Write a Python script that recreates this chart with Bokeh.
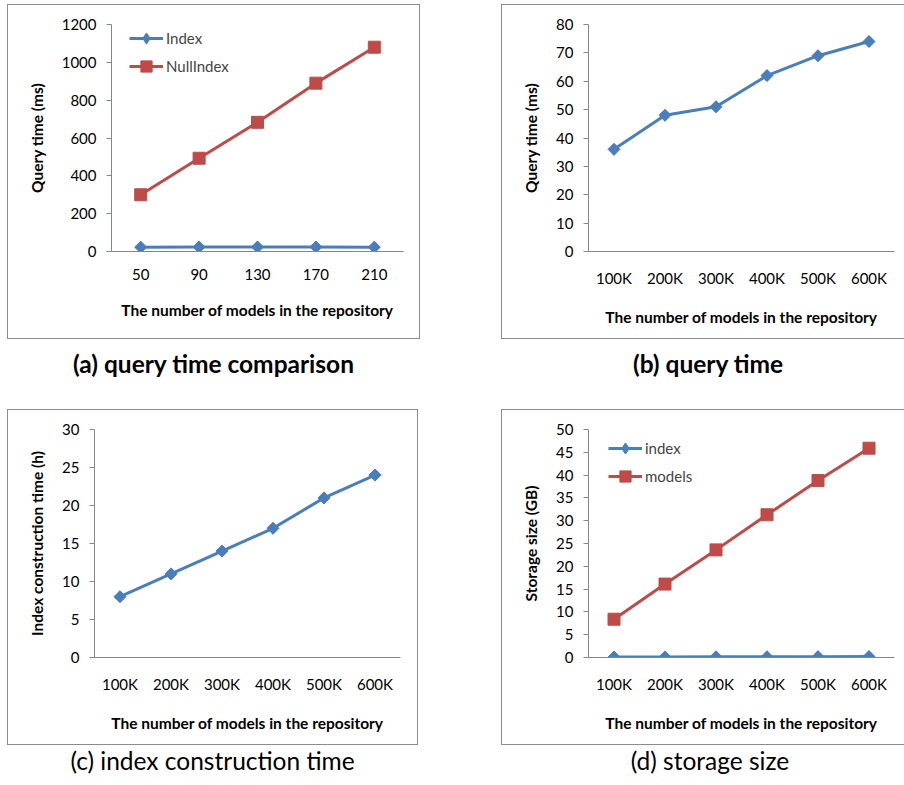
import math
from bokeh.plotting import figure
from bokeh.models import (FactorRange, Range1d, FixedTicker, Legend, LegendItem, Div, Spacer)
from bokeh.layouts import column, row
from bokeh.embed import file_html
from bokeh.resources import INLINE

# ---------------- data ----------------
cats_a = ["50", "90", "130", "170", "210"]
index_a = [23, 24, 24, 24, 23]
nullindex_a = [300, 493, 683, 890, 1080]
yticks_a = [0, 200, 400, 600, 800, 1000, 1200]

cats_b = ["100K", "200K", "300K", "400K", "500K", "600K"]
query_b = [36, 48, 51, 62, 69, 74]
yticks_b = [0, 10, 20, 30, 40, 50, 60, 70, 80]

cats_c = ["100K", "200K", "300K", "400K", "500K", "600K"]
build_c = [8, 11, 14, 17, 21, 24]
yticks_c = [0, 5, 10, 15, 20, 25, 30]

cats_d = ["100K", "200K", "300K", "400K", "500K", "600K"]
index_d = [0.1, 0.13, 0.15, 0.17, 0.19, 0.21]
models_d = [8.4, 16.1, 23.6, 31.3, 38.8, 45.9]
yticks_d = [0, 5, 10, 15, 20, 25, 30, 35, 40, 45, 50]

captions = ["(a) query time comparison", "(b) query time",
            "(c) index construction time", "(d) storage size"]
xtitle = "The number of models in the repository"

BLUE = "#4A7EBB"
RED = "#BE4B48"
AXIS = "#868686"
FONT = "Lato"
BORDER = "#8c8c8c"


def make_fig(cats, ymax, yticks, ytitle, width, height, left, right, top, bottom, right_border=True):
    st = {"border-top": f"1px solid {BORDER}", "border-bottom": f"1px solid {BORDER}",
          "border-left": f"1px solid {BORDER}", "box-sizing": "border-box"}
    if right_border:
        st["border-right"] = f"1px solid {BORDER}"
    p = figure(x_range=FactorRange(factors=cats), y_range=Range1d(0, ymax),
               width=width, height=height, output_backend="svg", toolbar_location=None,
               min_border_left=left, min_border_right=right, min_border_top=top,
               min_border_bottom=bottom, styles=st)
    p.outline_line_color = None
    p.xgrid.grid_line_color = None
    p.ygrid.grid_line_color = None
    p.background_fill_color = "white"
    p.border_fill_color = "white"
    p.yaxis.ticker = FixedTicker(ticks=yticks)
    for ax in (p.xaxis[0], p.yaxis[0]):
        ax.axis_line_color = AXIS
        ax.axis_line_width = 1
        ax.major_tick_line_color = AXIS
        ax.minor_tick_line_color = None
        ax.major_label_text_font = FONT
        ax.major_label_text_font_size = "15px"
        ax.major_label_text_color = "#000000"
        ax.axis_label_text_font = FONT
        ax.axis_label_text_font_size = "15.5px"
        ax.axis_label_text_font_style = "bold"
        ax.axis_label_text_color = "#000000"
    p.yaxis.major_tick_out = 5
    p.yaxis.major_tick_in = 0
    p.yaxis.major_label_standoff = 10
    p.yaxis.axis_label = ytitle
    p.yaxis.axis_label_standoff = 13
    p.xaxis.major_tick_out = 0
    p.xaxis.major_tick_in = 0
    p.xaxis.major_label_standoff = 17
    p.xaxis.axis_label = xtitle
    p.xaxis.axis_label_standoff = 18
    return p


def add_series(p, cats, vals, color, kind):
    l = p.line(cats, vals, line_color=color, line_width=3)
    if kind == "diamond":
        p.scatter(cats, vals, marker="square", angle=math.pi / 4, size=8.5,
                  fill_color=color, line_color=color)
        # inner diamond (fully covered by the rotated square) used for the legend swatch
        s = p.scatter(cats, vals, marker="diamond", size=11,
                      fill_color=color, line_color=color)
    else:
        s = p.scatter(cats, vals, marker="square", size=12,
                      fill_color=color, line_color=color)
    return [l, s]


def add_legend(p, items, loc):
    lg = Legend(items=[LegendItem(label=t, renderers=r) for t, r in items], location=loc)
    lg.glyph_width = 34
    lg.glyph_height = 28
    lg.label_height = 20
    lg.spacing = 0
    lg.padding = 0
    lg.margin = 0
    lg.border_line_color = None
    lg.background_fill_alpha = 0
    lg.label_standoff = 3
    lg.label_text_font = FONT
    lg.label_text_font_size = "15px"
    p.add_layout(lg)


# (a)
pa = make_fig(cats_a, 1200, yticks_a, "Query time (ms)", 413, 335, 103, 18, 19, 89)
ra1 = add_series(pa, cats_a, index_a, BLUE, "diamond")
ra2 = add_series(pa, cats_a, nullindex_a, RED, "square")
add_legend(pa, [("Index", ra1), ("NullIndex", ra2)], (18, 171))

# (b)
pb = make_fig(cats_b, 80, yticks_b, "Query time (ms)", 403, 335, 86, 11, 19, 89, right_border=False)
add_series(pb, cats_b, query_b, BLUE, "diamond")

# (c)
pc = make_fig(cats_c, 30, yticks_c, "Index construction time (h)", 411, 336, 86, 19, 18, 89)
add_series(pc, cats_c, build_c, BLUE, "diamond")

# (d)
pd_ = make_fig(cats_d, 50, yticks_d, "Storage size (GB)", 403, 336, 86, 11, 19, 89, right_border=False)
rd1 = add_series(pd_, cats_d, index_d, BLUE, "diamond")
rd2 = add_series(pd_, cats_d, models_d, RED, "square")
add_legend(pd_, [("index", rd1), ("models", rd2)], (20, 167))


def cap(text, width, height, bold, pad_left, pad_top, lh):
    w = "bold" if bold else "normal"
    html = (f'<div style="width:{width - pad_left}px;margin-left:{pad_left}px;padding-top:{pad_top}px;'
            f'text-align:center;font-family:{FONT};font-size:24.5px;font-weight:{w};'
            f'line-height:{lh}px;color:#000;white-space:nowrap">{text}</div>')
    return Div(text=html, width=width, height=height, margin=0, styles={"overflow": "hidden"})


row1 = row(Spacer(width=7, height=335), pa, Spacer(width=81, height=335), pb)
cap1 = row(Spacer(width=7, height=70), cap(captions[0], 413, 70, True, 0, 10, 30),
           Spacer(width=81, height=70), cap(captions[1], 403, 70, True, 11, 10, 30))
row2 = row(Spacer(width=7, height=336), pc, Spacer(width=83, height=336), pd_)
cap2 = row(Spacer(width=7, height=36), cap(captions[2], 411, 36, False, 0, 1, 30),
           Spacer(width=83, height=36), cap(captions[3], 403, 36, False, 15, 1, 30))

layout = column(Spacer(width=10, height=4), row1, cap1, row2, cap2)

open("out.html", "w").write(file_html(layout, INLINE))
